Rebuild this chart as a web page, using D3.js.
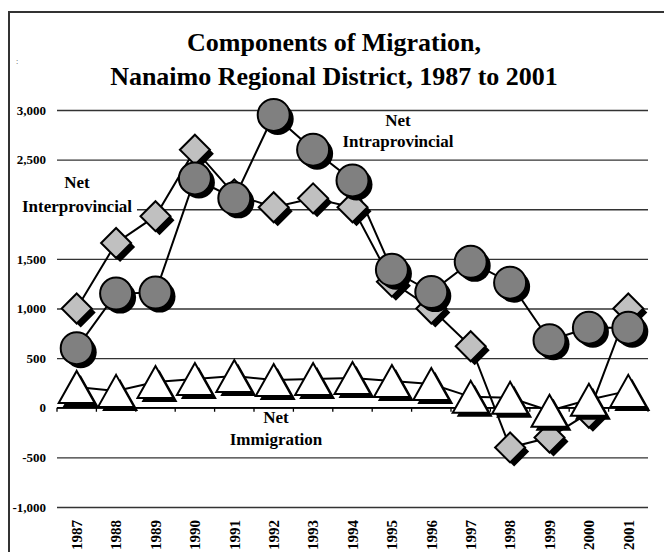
<!DOCTYPE html>
<html>
<head>
<meta charset="utf-8">
<script src="https://cdn.jsdelivr.net/npm/d3@7"></script>
<style>
  html, body { margin: 0; padding: 0; background: #fff; }
  svg { display: block; }
</style>
</head>
<body>
<svg id="chart" width="664" height="552"></svg>
<script>
// ---- data ----
const years = [1987, 1988, 1989, 1990, 1991, 1992, 1993, 1994, 1995, 1996, 1997, 1998, 1999, 2000, 2001];
const netInterprovincial = [1000, 1660, 1930, 2600, 2150, 2020, 2110, 2020, 1270, 1000, 620, -400, -300, -50, 1000];
const netIntraprovincial = [600, 1150, 1160, 2310, 2110, 2950, 2600, 2290, 1390, 1165, 1470, 1260, 680, 806, 806];
const netImmigration = [210, 170, 260, 290, 320, 280, 290, 300, 270, 240, 110, 100, -30, 80, 170];
const yTickValues = [-1000, -500, 0, 500, 1000, 1500, 2000, 2500, 3000];
const titleLines = ["Components of Migration,", "Nanaimo Regional District, 1987 to 2001"];

// ---- layout ----
const FONT = "'Liberation Serif', 'Times New Roman', serif";
const svg = d3.select("#chart").attr("font-family", FONT).attr("font-weight", "bold");
const plotLeft = 57, plotRight = 648, plotTop = 110, plotBottom = 507;

const x = d3.scaleBand().domain(years).range([plotLeft, plotRight]);
const cx = d => x(d) + x.bandwidth() / 2;
const y = d3.scaleLinear().domain([-1000, 3000]).range([plotBottom, plotTop]);

const locale = d3.formatLocale({decimal: ".", thousands: ",", grouping: [3], currency: ["$", ""], minus: "-"});
const fmt = locale.format(",");

function label(xp, yp, size, str, anchor) {
  return svg.append("text").attr("x", xp).attr("y", yp)
    .attr("text-anchor", anchor || "middle")
    .attr("font-family", FONT).attr("font-weight", "bold")
    .attr("font-size", size).attr("fill", "#000").text(str);
}

// frame
svg.append("path")
  .attr("d", "M9,552 L9,12 L664,12")
  .attr("fill", "none").attr("stroke", "#333").attr("stroke-width", 2);

// stray mark top-left
label(16, 64, 8, ":", "start").attr("font-weight", "normal").attr("fill", "#444");

// title
label(334, 51, 26, titleLines[0]);
label(334, 85, 26, titleLines[1]);

// y axis with gridlines
const yAxis = svg.append("g").attr("transform", `translate(${plotLeft},0)`)
  .call(d3.axisLeft(y).tickValues(yTickValues).tickFormat(fmt)
        .tickSize(-(plotRight - plotLeft)).tickPadding(11));
yAxis.attr("font-family", FONT);
yAxis.select(".domain").remove();
yAxis.selectAll(".tick line").attr("stroke", "#333").attr("stroke-width", 1.3);
yAxis.selectAll(".tick text").attr("font-size", 13).attr("font-family", FONT).attr("font-weight", "bold");
// the 2,000 label is hidden behind the "Net Interprovincial" note in the original
yAxis.selectAll(".tick").filter(d => d === 2000).select("text").remove();

// zero axis tick marks at category boundaries
const boundaries = years.map(d => x(d)).concat([plotRight]);
svg.append("g").selectAll("line").data(boundaries).join("line")
  .attr("x1", d => d).attr("x2", d => d)
  .attr("y1", y(0)).attr("y2", y(0) + 4)
  .attr("stroke", "#000").attr("stroke-width", 1.3);
svg.append("line").attr("x1", plotLeft).attr("x2", plotRight)
  .attr("y1", y(0)).attr("y2", y(0)).attr("stroke", "#000").attr("stroke-width", 1.3);

// x axis labels (rotated)
const xAxis = svg.append("g").attr("transform", "translate(0,516)")
  .call(d3.axisBottom(x).tickSize(0).tickFormat(d => String(d)));
xAxis.attr("font-family", FONT);
xAxis.select(".domain").remove();
xAxis.selectAll(".tick text")
  .attr("font-size", 15).attr("font-family", FONT).attr("font-weight", "bold")
  .attr("transform", "rotate(-90)")
  .attr("text-anchor", "end")
  .attr("x", -4).attr("y", 0).attr("dy", "0.35em");

// series lines
const series = [
  {name: "inter", values: netInterprovincial, shape: "diamond", fill: "#c0c0c0"},
  {name: "imm", values: netImmigration, shape: "triangle", fill: "#ffffff"},
  {name: "intra", values: netIntraprovincial, shape: "circle", fill: "#808080"}
];
const line = d3.line().x((d, i) => cx(years[i])).y(d => y(d));
series.forEach(s => {
  svg.append("path").datum(s.values).attr("d", line)
    .attr("fill", "none").attr("stroke", "#000").attr("stroke-width", 2);
});

// markers
const shapes = {
  diamond: "M0,-15L15,0L0,15L-15,0Z",
  triangle: "M0,-16L18,16L-18,16Z",
  circle: "M16,0A16,16 0 1,1 -16,0A16,16 0 1,1 16,0Z"
};
series.forEach(s => {
  const g = svg.append("g");
  const pts = g.selectAll("g").data(s.values).join("g")
    .attr("transform", (d, i) => `translate(${cx(years[i])},${y(d)})`);
  pts.append("path").attr("d", shapes[s.shape]).attr("transform", "translate(4,4)").attr("fill", "#000");
  pts.append("path").attr("d", shapes[s.shape]).attr("fill", s.fill)
    .attr("stroke", "#000").attr("stroke-width", 2).attr("stroke-linejoin", "miter");
});

// annotations
svg.append("rect").attr("x", 11).attr("y", 168).attr("width", 126).attr("height", 48).attr("fill", "#fff");
label(77, 188, 17, "Net");
label(77, 212, 17, "Interprovincial");

label(398, 126, 17, "Net");
label(398, 147, 17, "Intraprovincial");

label(276, 423, 17, "Net");
label(276, 445, 17, "Immigration");
</script>
</body>
</html>
